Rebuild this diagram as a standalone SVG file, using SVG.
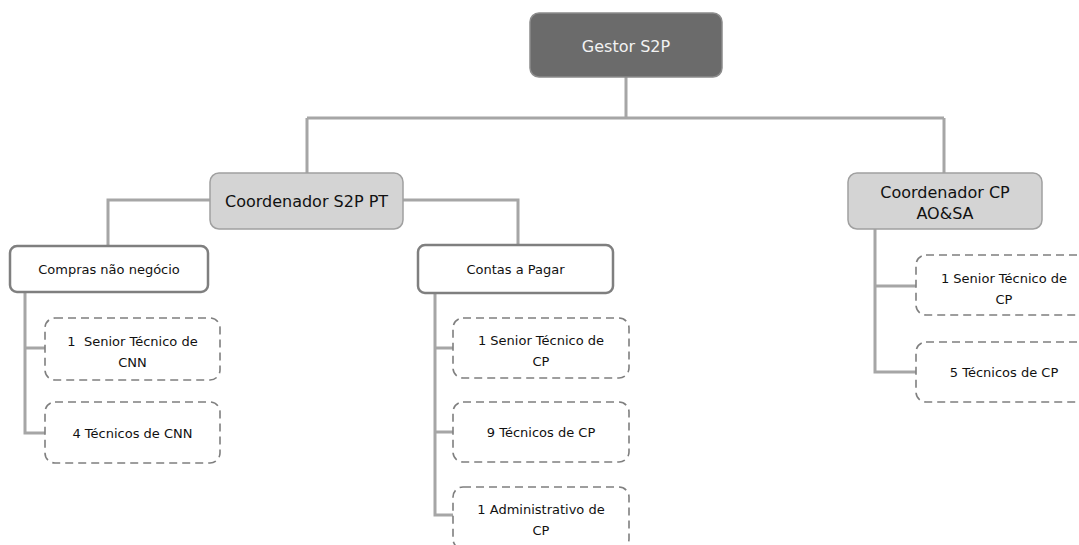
<svg xmlns="http://www.w3.org/2000/svg" width="1079" height="545" viewBox="0 0 1079 545">
<style>
text{font-family:"DejaVu Sans","Liberation Sans",sans-serif;fill:#111;text-anchor:middle}
.top{fill:#6b6b6b;stroke:#8c8c8c;stroke-width:1.5}
.coord{fill:#d4d4d4;stroke:#a0a0a0;stroke-width:1.5}
.dept{fill:#fff;stroke:#7f7f7f;stroke-width:2.5}
.role{fill:#fff;stroke:#7f7f7f;stroke-width:1.6;stroke-dasharray:8 5}
.conn{fill:none;stroke:#a6a6a6;stroke-width:3}
.h1{font-size:16px}
.h3{font-size:13px}
</style>
<g id="connectors">
<path class="conn" d="M626 77V118M307 118H944M307 118V173M944 118V173"/>
<path class="conn" d="M210 200H108V246M403 200H518V245"/>
<path class="conn" d="M25 292V433H45M25 348H45"/>
<path class="conn" d="M435 293V515H453M435 348H453M435 432H453"/>
<path class="conn" d="M875 229V372H916M875 286H916"/>
</g>
<g id="gestor">
<rect class="top" x="530" y="13" width="192" height="64" rx="9"/>
<text class="h1" x="626" y="52" style="fill:#f2f2f2">Gestor S2P</text>
</g>
<g id="coord-s2p-pt">
<rect class="coord" x="210" y="173" width="193" height="56" rx="9"/>
<text class="h1" x="306.5" y="207">Coordenador S2P PT</text>
</g>
<g id="coord-cp">
<rect class="coord" x="848" y="173" width="194" height="56" rx="9"/>
<text class="h1" x="945" y="198">Coordenador CP</text>
<text class="h1" x="945" y="219">AO&amp;SA</text>
</g>
<g id="compras">
<rect class="dept" x="10" y="246" width="198" height="46" rx="7"/>
<text class="h3" x="109" y="274">Compras não negócio</text>
</g>
<g id="contas">
<rect class="dept" x="418" y="245" width="195" height="48" rx="7"/>
<text class="h3" x="515.5" y="274">Contas a Pagar</text>
</g>
<g id="cnn-senior">
<rect class="role" x="45" y="318" width="175" height="62" rx="10"/>
<text class="h3" x="132.5" y="346" xml:space="preserve">1  Senior Técnico de</text>
<text class="h3" x="132.5" y="367">CNN</text>
</g>
<g id="cnn-tecnicos">
<rect class="role" x="45" y="402" width="175" height="61" rx="10"/>
<text class="h3" x="132.5" y="438">4 Técnicos de CNN</text>
</g>
<g id="cp-senior">
<rect class="role" x="453" y="318" width="176" height="60" rx="10"/>
<text class="h3" x="541" y="345">1 Senior Técnico de</text>
<text class="h3" x="541" y="366">CP</text>
</g>
<g id="cp-tecnicos">
<rect class="role" x="453" y="402" width="176" height="60" rx="10"/>
<text class="h3" x="541" y="437">9 Técnicos de CP</text>
</g>
<g id="cp-admin">
<rect class="role" x="453" y="487" width="176" height="62" rx="10"/>
<text class="h3" x="541" y="514">1 Administrativo de</text>
<text class="h3" x="541" y="535">CP</text>
</g>
<g id="aosa-senior">
<rect class="role" x="916" y="255" width="176" height="60" rx="10"/>
<text class="h3" x="1004" y="283">1 Senior Técnico de</text>
<text class="h3" x="1004" y="304">CP</text>
</g>
<g id="aosa-tecnicos">
<rect class="role" x="916" y="342" width="176" height="60" rx="10"/>
<text class="h3" x="1004" y="377">5 Técnicos de CP</text>
</g>
</svg>
